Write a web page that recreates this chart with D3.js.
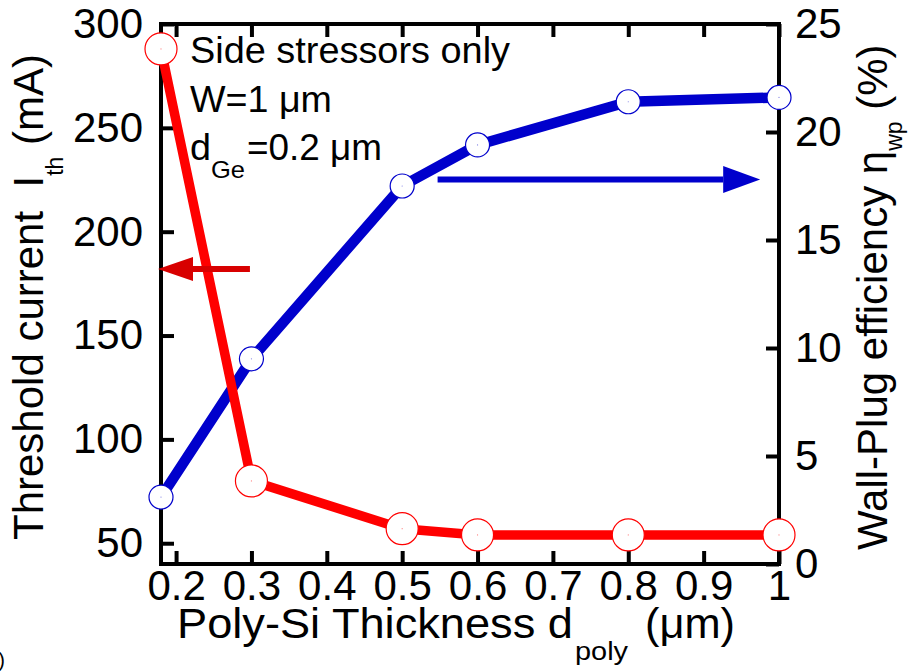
<!DOCTYPE html>
<html>
<head>
<meta charset="utf-8">
<script src="https://cdn.jsdelivr.net/npm/d3@7"></script>
<style>
  html, body { margin: 0; padding: 0; background: #fff; }
  svg { display: block; }
  text { font-family: Arial, "Liberation Sans", Helvetica, sans-serif; fill: #000; }
</style>
</head>
<body>
<svg id="chart" width="914" height="671"></svg>
<script>
// Poly-Si thickness (µm)
const thickness = [0.18, 0.3, 0.5, 0.6, 0.8, 1.0];
// Threshold current I_th (mA), left axis
const thresholdCurrent = [288, 80, 57, 54, 54, 54];
// Wall-plug efficiency (%), right axis
const wallPlugEff = [3.1, 9.5, 17.5, 19.4, 21.4, 21.6];

const xTicks = [0.2, 0.3, 0.4, 0.5, 0.6, 0.7, 0.8, 0.9, 1.0];
const xTickLabels = ["0.2", "0.3", "0.4", "0.5", "0.6", "0.7", "0.8", "0.9", "1"];
const leftTicks = [50, 100, 150, 200, 250, 300];
const rightTicks = [0, 5, 10, 15, 20, 25];

// arrows pointing each curve to its axis (data units)
const leftArrow = { from: 0.298, to: 0.176, value: 182 };
const rightArrow = { from: 0.547, to: 0.975, value: 17.8 };

const m = { left: 161, right: 779, top: 24, bottom: 564 };

const svg = d3.select("#chart");

const x = d3.scaleLinear().domain([0.18, 1.0]).range([m.left, m.right]);
const yL = d3.scaleLinear().domain([40, 300]).range([m.bottom, m.top]);
const yR = d3.scaleLinear().domain([0, 25]).range([m.bottom, m.top]);

const RED = "#ff0000", BLUE = "#0000cc", ARROW_RED = "#d80000";
const TICK = 13;

function styleAxis(g) {
  g.select(".domain").remove();
  g.selectAll(".tick line").attr("stroke", "#000").attr("stroke-width", 4);
  g.selectAll(".tick text").attr("font-size", 42).attr("fill", "#000")
    .style("font-family", 'Arial, "Liberation Sans", Helvetica, sans-serif');
}

// bottom axis with labels
svg.append("g").attr("transform", `translate(0,${m.bottom})`)
  .call(d3.axisBottom(x).tickValues(xTicks).tickSize(-TICK).tickPadding(6)
    .tickFormat((d, i) => xTickLabels[i]))
  .call(styleAxis);
// top axis, ticks only
svg.append("g").attr("transform", `translate(0,${m.top})`)
  .call(d3.axisTop(x).tickValues(xTicks).tickSize(-TICK).tickFormat(""))
  .call(styleAxis);
// left axis
svg.append("g").attr("transform", `translate(${m.left},0)`)
  .call(d3.axisLeft(yL).tickValues(leftTicks).tickSize(-TICK).tickPadding(18)
    .tickFormat(d3.format("d")))
  .call(styleAxis);
// right axis
svg.append("g").attr("transform", `translate(${m.right},0)`)
  .call(d3.axisRight(yR).tickValues(rightTicks).tickSize(-TICK).tickPadding(16)
    .tickFormat(d3.format("d")))
  .call(styleAxis);

// frame
svg.append("rect")
  .attr("x", m.left).attr("y", m.top)
  .attr("width", m.right - m.left).attr("height", m.bottom - m.top)
  .attr("fill", "none").attr("stroke", "#000").attr("stroke-width", 4);

// curves
const lineBlue = d3.line().x((d, i) => x(thickness[i])).y(d => yR(d));
const lineRed = d3.line().x((d, i) => x(thickness[i])).y(d => yL(d));

svg.append("path").datum(wallPlugEff)
  .attr("d", lineBlue).attr("fill", "none")
  .attr("stroke", BLUE).attr("stroke-width", 10.5).attr("stroke-linejoin", "round");
svg.append("path").datum(thresholdCurrent)
  .attr("d", lineRed).attr("fill", "none")
  .attr("stroke", RED).attr("stroke-width", 9.5).attr("stroke-linejoin", "round");

function markers(values, yScale, color, r) {
  const g = svg.append("g");
  g.selectAll("circle.mk").data(values).join("circle")
    .attr("class", "mk")
    .attr("cx", (d, i) => x(thickness[i])).attr("cy", d => yScale(d))
    .attr("r", r).attr("fill", "#fff").attr("stroke", color).attr("stroke-width", 1.2);
  g.selectAll("circle.dot").data(values).join("circle")
    .attr("class", "dot")
    .attr("cx", (d, i) => x(thickness[i])).attr("cy", d => yScale(d))
    .attr("r", 0.6).attr("fill", color).attr("opacity", 0.5);
}
markers(wallPlugEff, yR, BLUE, 12);
markers(thresholdCurrent, yL, RED, 16);

// arrows
function arrow(a, yScale, color, headLen, headHalf) {
  const x0 = x(a.from), x1 = x(a.to), yy = yScale(a.value);
  const dir = Math.sign(x1 - x0);
  const base = x1 - dir * headLen;
  svg.append("line")
    .attr("x1", x0).attr("y1", yy).attr("x2", base).attr("y2", yy)
    .attr("stroke", color).attr("stroke-width", 6);
  svg.append("path")
    .attr("d", `M${x1},${yy} L${base},${yy - headHalf} L${base},${yy + headHalf} Z`)
    .attr("fill", color);
}
arrow(leftArrow, yL, ARROW_RED, 35, 12);
arrow(rightArrow, yR, BLUE, 37, 13.5);

// annotation text
const note = svg.append("g").attr("font-size", 36);
note.append("text").attr("x", 190).attr("y", 63)
  .attr("textLength", 320).attr("lengthAdjust", "spacingAndGlyphs")
  .text("Side stressors only");
note.append("text").attr("x", 190).attr("y", 112)
  .attr("textLength", 142).attr("lengthAdjust", "spacingAndGlyphs")
  .text("W=1 \u03bcm");
note.append("text").attr("x", 190).attr("y", 160)
  .attr("textLength", 21).attr("lengthAdjust", "spacingAndGlyphs").text("d");
note.append("text").attr("x", 211).attr("y", 178).attr("font-size", 24)
  .attr("textLength", 34).attr("lengthAdjust", "spacingAndGlyphs").text("Ge");
note.append("text").attr("x", 247).attr("y", 160)
  .attr("textLength", 135).attr("lengthAdjust", "spacingAndGlyphs").text("=0.2 \u03bcm");

// x-axis title
const xt = svg.append("g").attr("font-size", 42);
xt.append("text").attr("x", 177).attr("y", 638)
  .attr("textLength", 396).attr("lengthAdjust", "spacingAndGlyphs")
  .text("Poly-Si Thickness d");
xt.append("text").attr("x", 575).attr("y", 660).attr("font-size", 25)
  .attr("textLength", 53).attr("lengthAdjust", "spacingAndGlyphs").text("poly");
xt.append("text").attr("x", 645).attr("y", 638)
  .attr("textLength", 90).attr("lengthAdjust", "spacingAndGlyphs").text("(\u03bcm)");

// left title
const lt = svg.append("text").attr("transform", "translate(43,540) rotate(-90)")
  .attr("font-size", 42);
lt.append("tspan").text("Threshold current\u00a0 I");
lt.append("tspan").attr("font-size", 23).attr("dy", 20).text("th");
lt.append("tspan").attr("dy", -20).text(" (mA)");

// right title
const rt = svg.append("text").attr("transform", "translate(887,550) rotate(-90)")
  .attr("font-size", 42);
rt.append("tspan").text("Wall-Plug efficiency \u03b7");
rt.append("tspan").attr("font-size", 23).attr("dy", 15).text("wp");
rt.append("tspan").attr("dy", -15).text(" (%)");

// panel label cut at the page edge
svg.append("text").attr("x", 5).attr("y", 667).attr("font-size", 20)
  .attr("text-anchor", "end").text("(a)");
</script>
</body>
</html>
